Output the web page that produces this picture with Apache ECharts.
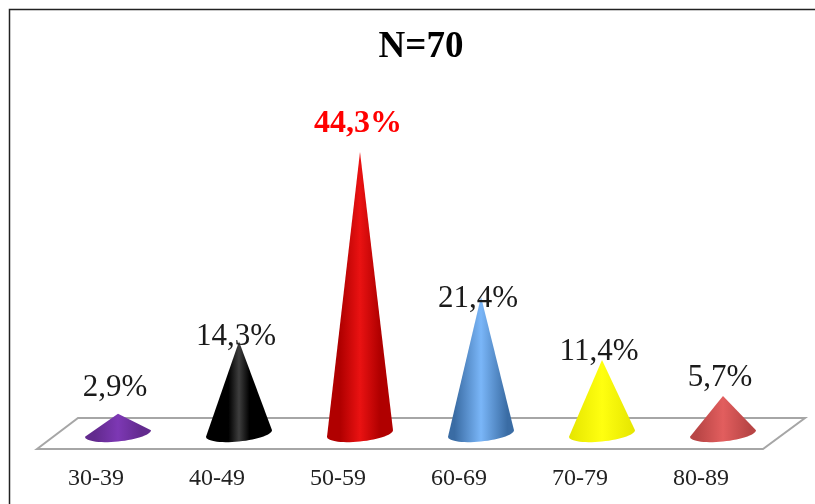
<!DOCTYPE html>
<html>
<head>
<meta charset="utf-8">
<style>
  html, body { margin: 0; padding: 0; background: #fff; }
  #chart { width: 815px; height: 504px; }
</style>
</head>
<body>
<div id="chart"></div>
<script src="https://cdn.jsdelivr.net/npm/echarts@6/dist/echarts.min.js"></script>
<script>
const categories = ['30-39', '40-49', '50-59', '60-69', '70-79', '80-89'];
const percents = [2.9, 14.3, 44.3, 21.4, 11.4, 5.7];

// edge colour, middle highlight colour
const coneEdges = ['#622a8e', '#000000', '#b00000', '#3a6ca4', '#e6e600', '#b84545'];
const coneLights = ['#7d38b4', '#3e3e3e', '#ea1212', '#7ab6f8', '#ffff10', '#e25e5e'];
// where the highlight starts across the cone, 0 to 0.5
const coneShade = [0.15, 0.34, 0.2, 0.1, 0.02, 0.1];
// how far each label sits above its cone tip, pixels
const labelLift = [26, 5, 28, -2, 8, 18];

const FONT = '"Liberation Serif", "Times New Roman", serif';
const BASE_RX = 33;
const BASE_RY = 8;
const BASE_TILT = 3.3; // base ellipse leans, right side higher
const BASE_DROP = 1.5;

const chart = echarts.init(document.getElementById('chart'));

function renderCone(params, api) {
  const i = params.dataIndex;
  const base = api.coord([i, 0]);
  const tip = api.coord([i, api.value(1)]);
  const cx = base[0];
  const cy = base[1] + BASE_DROP;

  // tip, then the front half of the base ellipse from right to left
  const points = [[cx, tip[1]]];
  for (let a = 0; a <= 180; a += 6) {
    const rad = a * Math.PI / 180;
    points.push([
      cx + BASE_RX * Math.cos(rad),
      cy + BASE_RY * Math.sin(rad) - BASE_TILT * Math.cos(rad)
    ]);
  }

  return {
    type: 'group',
    children: [
      {
        type: 'polygon',
        shape: { points },
        style: {
          fill: new echarts.graphic.LinearGradient(0, 0, 1, 0, [
            { offset: 0, color: coneEdges[i] },
            { offset: coneShade[i], color: coneEdges[i] },
            { offset: 0.5, color: coneLights[i] },
            { offset: 1 - coneShade[i], color: coneEdges[i] },
            { offset: 1, color: coneEdges[i] }
          ])
        }
      },
      {
        type: 'text',
        x: i === 2 ? cx - 2 : cx - 3,
        y: tip[1] - labelLift[i],
        style: {
          text: percents[i].toFixed(1).replace('.', ',') + '%',
          font: (i === 2 ? 'bold 32px ' : '31px ') + FONT,
          fill: i === 2 ? '#ff0000' : '#1a1a1a',
          align: 'center',
          verticalAlign: 'middle'
        }
      }
    ]
  };
}

chart.setOption({
  backgroundColor: '#fff',
  animation: false,
  title: {
    text: 'N=70',
    left: 416,
    top: 24,
    textAlign: 'center',
    textStyle: { fontFamily: FONT, fontSize: 37, fontWeight: 'bold', color: '#000' }
  },
  grid: { left: 57.5, right: 31.5, top: 116, bottom: 72 },
  xAxis: {
    type: 'category',
    data: categories,
    axisLine: { show: false },
    axisTick: { show: false },
    // labels sit left of the cones in the original
    axisLabel: { fontFamily: FONT, fontSize: 24, color: '#222', margin: 35, padding: [0, 44, 0, 0] }
  },
  yAxis: { type: 'value', min: 0, max: 50, show: false },
  graphic: [
    // page frame, open on the right and at the bottom
    {
      type: 'polyline',
      z: 0,
      shape: { points: [[9.5, 504], [9.5, 9.5], [815, 9.5]] },
      style: { stroke: '#222', lineWidth: 1.5, fill: null }
    },
    // chart floor
    {
      type: 'polygon',
      z: 0,
      shape: { points: [[37, 449], [78, 418], [805, 418], [763, 449]] },
      style: { stroke: '#a6a6a6', lineWidth: 2, fill: '#fff' }
    }
  ],
  series: [
    {
      type: 'custom',
      renderItem: renderCone,
      data: percents.map((v, i) => [i, v]),
      encode: { x: 0, y: 1 },
      silent: true
    }
  ]
});
</script>
</body>
</html>
